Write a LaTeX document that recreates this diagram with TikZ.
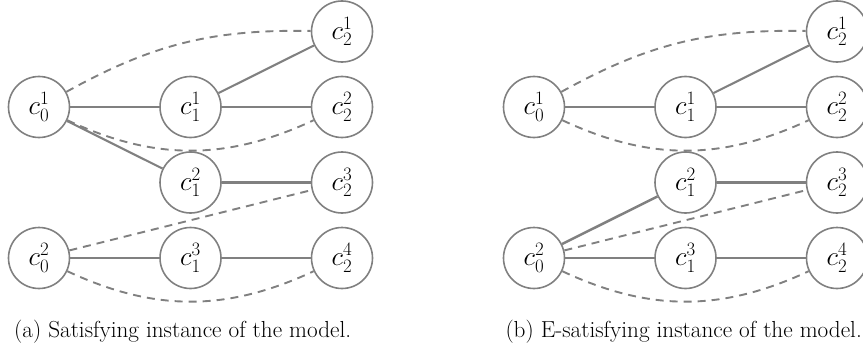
\RequirePackage{fix-cm}
\documentclass[tikz,border=0pt]{standalone}
\usepackage[no-math]{fontspec}
\usetikzlibrary{positioning}

\begin{document}
\begin{tikzpicture}[
    x=1pt,y=1pt,
    on grid,
    node distance=75.5pt and 151.5pt,
    vtx/.style={draw=black!50,circle,line width=1.6pt,minimum size=61pt,inner sep=0pt,font=\fontsize{27}{32}\selectfont},
    link/.style={draw=black!50,line width=2.1pt},
    dlink/.style={link,line width=1.9pt,dash pattern=on 8pt off 6pt},
    captxt/.style={font=\fontsize{23.2}{28}\selectfont,anchor=base west,inner sep=0pt}
]
\useasboundingbox (0,0) rectangle (863,349);
% (a)
\node[vtx] (a01) at (39,242) {$c_0^1$};
\node[vtx,right=of a01] (a11) {$c_1^1$};
\node[vtx,right=of a11] (a22) {$c_2^2$};
\node[vtx,above=of a22] (a21) {$c_2^1$};
\node[vtx,below=of a11] (a12) {$c_1^2$};
\node[vtx,right=of a12] (a23) {$c_2^3$};
\node[vtx,below=of a12] (a13) {$c_1^3$};
\node[vtx,left=of a13] (a02) {$c_0^2$};
\node[vtx,right=of a13] (a24) {$c_2^4$};
\draw[link] (a01) -- (a11);
\draw[link] (a11) -- (a21);
\draw[link] (a11) -- (a22);
\draw[link] (a01) -- (a12);
\draw[link] (a12) -- (a23);
\draw[link] (a02) -- (a13);
\draw[link] (a13) -- (a24);
\draw[dlink] (a01) to[bend left=15] (a21);
\draw[dlink] (a01) to[bend right=25] (a22);
\draw[dlink] (a02) -- (a23);
\draw[dlink] (a02) to[bend right=25] (a24);
\node[captxt] (capa) at (14,11.3) {(a) Satisfying instance of the model.};
% (b)
\node[vtx] (b01) at (534,242) {$c_0^1$};
\node[vtx,right=of b01] (b11) {$c_1^1$};
\node[vtx,right=of b11] (b22) {$c_2^2$};
\node[vtx,above=of b22] (b21) {$c_2^1$};
\node[vtx,below=of b11] (b12) {$c_1^2$};
\node[vtx,right=of b12] (b23) {$c_2^3$};
\node[vtx,below=of b12] (b13) {$c_1^3$};
\node[vtx,left=of b13] (b02) {$c_0^2$};
\node[vtx,right=of b13] (b24) {$c_2^4$};
\draw[link] (b01) -- (b11);
\draw[link] (b11) -- (b21);
\draw[link] (b11) -- (b22);
\draw[link] (b12) -- (b23);
\draw[link,line width=2.5pt] (b02) -- (b12);
\draw[link] (b02) -- (b13);
\draw[link] (b13) -- (b24);
\draw[dlink] (b01) to[bend left=15] (b21);
\draw[dlink] (b01) to[bend right=25] (b22);
\draw[dlink] (b02) -- (b23);
\draw[dlink] (b02) to[bend right=25] (b24);
\node[captxt,anchor=base east] (capb) at (862,11.3) {(b) E-satisfying instance of the model.};
\end{tikzpicture}
\end{document}
